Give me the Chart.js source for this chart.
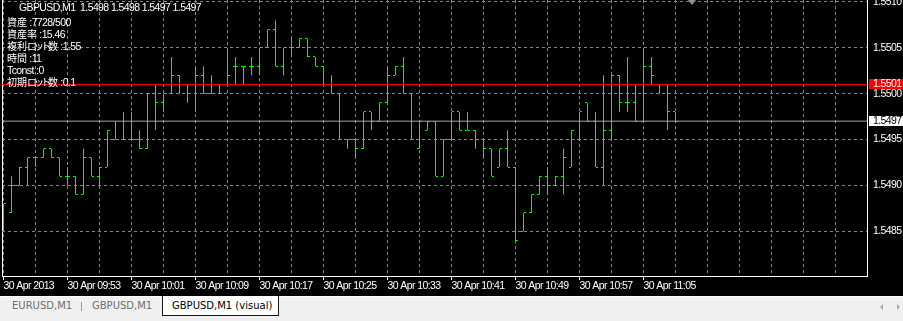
<!DOCTYPE html>
<html><head><meta charset="utf-8">
<script src="https://cdn.jsdelivr.net/npm/chart.js@4.4.1/dist/chart.umd.min.js"></script>
<style>
html,body{margin:0;padding:0;}
body{width:903px;height:321px;overflow:hidden;position:relative;background:#f0f0f0;}
#black{position:absolute;left:0;top:0;width:903px;height:296px;background:#000;}
#c{position:absolute;left:0;top:0;}
.t{position:absolute;color:#fff;font-family:"Liberation Sans",sans-serif;font-size:10.5px;letter-spacing:-0.6px;white-space:nowrap;line-height:12px;}
.t div{height:12px;}
.jp{font-family:"Noto Sans CJK JP",sans-serif;font-size:10px;letter-spacing:0;}
.kana{font-family:"Noto Sans CJK JP",sans-serif;font-size:10px;letter-spacing:-3px;}
#wline{position:absolute;left:0;top:296px;width:903px;height:1px;background:#fff;}
.tab{position:absolute;top:296px;height:19px;line-height:19px;font-family:"DejaVu Sans",sans-serif;font-size:10px;color:#6e6e6e;white-space:nowrap;}
#active{left:162px;width:106px;padding-left:9px;background:#fff;color:#000;border-left:1px solid #1a1a1a;border-right:1px solid #1a1a1a;border-bottom:1px solid #1a1a1a;}
#sep{position:absolute;left:81px;top:302px;width:1px;height:9px;background:#9a9a9a;}
#tri{position:absolute;left:688px;top:0;width:0;height:0;border-left:4px solid transparent;border-right:4px solid transparent;border-top:5px solid #8c929c;}
#al{position:absolute;left:880px;top:304px;width:0;height:0;border-top:3px solid transparent;border-bottom:3px solid transparent;border-right:3px solid #a8a8a8;}
#ar{position:absolute;left:897px;top:304px;width:0;height:0;border-top:3px solid transparent;border-bottom:3px solid transparent;border-left:3px solid #a8a8a8;}
</style>
</head>
<body>
<div id="black"></div>
<canvas id="c" width="903" height="295"></canvas>
<div class="t" id="ttl" style="left:19px;top:1px;white-space:pre"></div>
<div class="t" style="left:7px;top:16px"><div><span class="jp">資産</span> :7728/500</div><div><span class="jp">資産率</span> :15.46</div><div><span class="jp">複利</span><span class="kana">ロット</span><span class="jp">数</span> :1.55</div><div><span class="jp">時間</span> :11</div><div>Tconst :0</div><div><span class="jp">初期</span><span class="kana">ロット</span><span class="jp">数</span> :0.1</div></div>
<div id="tri"></div>
<div id="wline"></div>
<div class="tab" style="left:12px">EURUSD,M1</div>
<div id="sep"></div>
<div class="tab" style="left:92px">GBPUSD,M1</div>
<div class="tab" id="active">GBPUSD,M1 (visual)</div>
<div id="al"></div><div id="ar"></div>
<script>
// ---- data (GBPUSD M1, 30 Apr 2013 09:45 .. 11:09) ----
const symbol = 'GBPUSD,M1';
const opens = [
 1.5485,1.5487,1.5490,1.5492,1.5493,1.5493,1.5494,1.5493,1.5491,1.5491,
 1.5489,1.5493,1.5491,1.5492,1.5495,1.5495,1.5495,1.5495,1.5494,1.5500,
 1.5499,1.5500,1.5502,1.5501,1.5501,1.5502,1.5500,1.5501,1.5501,1.5503,
 1.5503,1.5503,1.5503,1.5505,1.5507,1.5503,1.5505,1.5505,1.5506,1.5504,
 1.5503,1.5501,1.5500,1.5495,1.5495,1.5494,1.5498,1.5497,1.5499,1.5502,
 1.5503,1.5500,1.5494,1.5496,1.5497,1.5491,1.5495,1.5498,1.5496,1.5496,
 1.5495,1.5494,1.5492,1.5494,1.5492,1.5485,1.5487,1.5489,1.5491,1.5490,
 1.5491,1.5492,1.5495,1.5499,1.5497,1.5492,1.5496,1.5502,1.5499,1.5499,
 1.5497,1.5503,1.5501,1.5501,1.5498];
const highs = [
 1.5488,1.5491,1.5492,1.5493,1.5493,1.5494,1.5494,1.5493,1.5492,1.5491,
 1.5494,1.5493,1.5492,1.5496,1.5497,1.5498,1.5498,1.5496,1.5500,1.5501,
 1.5500,1.5504,1.5502,1.5501,1.5503,1.5503,1.5502,1.5501,1.5505,1.5504,
 1.5503,1.5504,1.5505,1.5507,1.5508,1.5505,1.5506,1.5506,1.5506,1.5504,
 1.5503,1.5502,1.5500,1.5495,1.5495,1.5498,1.5498,1.5499,1.5503,1.5503,
 1.5504,1.5500,1.5497,1.5497,1.5497,1.5495,1.5498,1.5498,1.5498,1.5496,
 1.5495,1.5494,1.5494,1.5496,1.5492,1.5487,1.5489,1.5491,1.5492,1.5491,
 1.5494,1.5496,1.5498,1.5499,1.5498,1.5502,1.5502,1.5502,1.5504,1.5501,
 1.5505,1.5504,1.5501,1.5501,1.5498];
const lows = [
 1.5485,1.5487,1.5490,1.5490,1.5492,1.5493,1.5493,1.5491,1.5490,1.5489,
 1.5489,1.5491,1.5490,1.5492,1.5495,1.5495,1.5495,1.5494,1.5494,1.5496,
 1.5498,1.5500,1.5500,1.5499,1.5498,1.5500,1.5500,1.5500,1.5501,1.5501,
 1.5501,1.5502,1.5502,1.5505,1.5503,1.5502,1.5504,1.5505,1.5504,1.5503,
 1.5501,1.5500,1.5495,1.5494,1.5493,1.5494,1.5496,1.5497,1.5499,1.5502,
 1.5500,1.5495,1.5494,1.5496,1.5491,1.5491,1.5495,1.5496,1.5496,1.5494,
 1.5493,1.5491,1.5492,1.5492,1.5484,1.5485,1.5487,1.5489,1.5489,1.5490,
 1.5489,1.5492,1.5495,1.5497,1.5492,1.5490,1.5495,1.5498,1.5498,1.5497,
 1.5497,1.5501,1.5500,1.5496,1.5497];
const closes = [
 1.5488,1.5490,1.5492,1.5493,1.5493,1.5494,1.5493,1.5491,1.5491,1.5489,
 1.5493,1.5491,1.5492,1.5496,1.5495,1.5495,1.5495,1.5494,1.5500,1.5499,
 1.5500,1.5502,1.5501,1.5501,1.5502,1.5500,1.5500,1.5500,1.5502,1.5503,
 1.5503,1.5503,1.5505,1.5507,1.5503,1.5505,1.5505,1.5506,1.5504,1.5503,
 1.5501,1.5500,1.5495,1.5495,1.5494,1.5498,1.5497,1.5499,1.5502,1.5503,
 1.5500,1.5495,1.5497,1.5497,1.5491,1.5495,1.5498,1.5496,1.5496,1.5495,
 1.5494,1.5491,1.5494,1.5492,1.5484,1.5487,1.5489,1.5491,1.5490,1.5491,
 1.5493,1.5496,1.5498,1.5497,1.5492,1.5496,1.5502,1.5499,1.5499,1.5497,
 1.5503,1.5502,1.5501,1.5498,1.5497];
const askPrice = 1.5501;
const bidPrice = 1.5497;
const timeLabels = ['30 Apr 2013','30 Apr 09:53','30 Apr 10:01','30 Apr 10:09','30 Apr 10:17',
 '30 Apr 10:25','30 Apr 10:33','30 Apr 10:41','30 Apr 10:49','30 Apr 10:57','30 Apr 11:05'];
const priceTicks = [1.5485, 1.5490, 1.5495, 1.5500, 1.5505, 1.5510];
const gridBars = [0,4,8,12,16,20,24,28,32,36,40,44,48,52,56,60,64,68,72,76,80,84,88,92,96,100,104];

// ---- view ----
const X_MIN = -0.1875, X_MAX = 107.9375;
const Y_MIN = 1.548012, Y_MAX = 1.551021;
const FONT = '"Liberation Sans", sans-serif';
const FSIZE = 10.5;
const LSPACE = '-0.6px';
const GREEN = '#00ff00';
const GRID = '#778899';

const last = opens.length - 1;
document.getElementById('ttl').textContent = symbol + '  ' +
  [opens[last], highs[last], lows[last], closes[last]].map(v => v.toFixed(4)).join(' ');

function tickImg(left) {
  const c = document.createElement('canvas'); c.width = 5; c.height = 1;
  const g = c.getContext('2d'); g.fillStyle = GREEN;
  if (left) g.fillRect(0, 0, 2, 1); else g.fillRect(3, 0, 2, 1);
  return c;
}
const openImg = tickImg(true), closeImg = tickImg(false);

function labelFor(v) {
  if (v % 8 !== 0) return '';
  return timeLabels[v / 8] || '';
}

const decor = {
  id: 'decor',
  beforeInit(chart) { chart.ctx.letterSpacing = LSPACE; },
  beforeDraw(chart) {
    const ctx = chart.ctx;
    ctx.letterSpacing = LSPACE;
    ctx.save(); ctx.fillStyle = '#000';
    ctx.fillRect(0, 0, chart.width, chart.height); ctx.restore();
  },
  beforeDatasetsDraw(chart) { chart.ctx.imageSmoothingEnabled = false; },
  afterDraw(chart) {
    const ctx = chart.ctx, ys = chart.scales.y, x0 = chart.chartArea.right + 2;
    const tag = (price, bg, fg) => {
      const yy = Math.floor(ys.getPixelForValue(price));
      ctx.save();
      ctx.fillStyle = bg; ctx.fillRect(x0, yy - 5, chart.width - x0, 10);
      ctx.fillStyle = fg; ctx.font = FSIZE + 'px ' + FONT; ctx.textBaseline = 'middle'; ctx.textAlign = 'left';
      ctx.letterSpacing = LSPACE;
      ctx.fillText(price.toFixed(4), x0 + 4, yy + 0.5);
      ctx.restore();
    };
    tag(askPrice, '#ff0000', '#ffffff');
    tag(bidPrice, '#ffffff', '#000000');
  }
};

const zeroPad = s => { s.paddingLeft = 0; s.paddingRight = 0; s.paddingTop = 0; s.paddingBottom = 0; };

new Chart(document.getElementById('c'), {
  type: 'line',
  data: {
    datasets: [
      { type: 'line', label: 'Ask', yAxisID: 'y', xAxisID: 'x', order: 0,
        data: [{x: X_MIN, y: askPrice}, {x: X_MAX, y: askPrice}],
        borderColor: '#ff0000', borderWidth: 1, pointRadius: 0, tension: 0 },
      { type: 'line', label: 'Bid', yAxisID: 'y', xAxisID: 'x', order: 0,
        data: [{x: X_MIN, y: bidPrice}, {x: X_MAX, y: bidPrice}],
        borderColor: '#a3a6ab', borderWidth: 1, pointRadius: 0, tension: 0 },
      { type: 'scatter', label: 'Open', yAxisID: 'y', xAxisID: 'x', order: 1,
        data: opens.map((v, i) => ({x: i, y: v})), pointStyle: openImg, pointRadius: 2, showLine: false },
      { type: 'scatter', label: 'Close', yAxisID: 'y', xAxisID: 'x', order: 1,
        data: closes.map((v, i) => ({x: i, y: v})), pointStyle: closeImg, pointRadius: 2, showLine: false },
      { type: 'bar', label: 'Range', yAxisID: 'y', xAxisID: 'x', order: 2,
        data: lows.map((v, i) => ({x: i, y: [v, highs[i]]})),
        backgroundColor: GREEN, borderWidth: 0, barThickness: 1, inflateAmount: 0, grouped: false }
    ]
  },
  options: {
    responsive: false, animation: false, devicePixelRatio: 1, events: [],
    layout: { padding: 0, autoPadding: false },
    plugins: { legend: { display: false }, tooltip: { enabled: false } },
    scales: {
      x: {
        type: 'linear', position: 'bottom', min: X_MIN, max: X_MAX, offset: false,
        afterBuildTicks: s => { s.ticks = gridBars.map(v => ({value: v})); },
        afterFit: s => { s.height = 19; zeroPad(s); },
        grid: { color: GRID, lineWidth: 1, offset: false, drawTicks: true, tickLength: 4,
          tickColor: c => (c.tick && labelFor(c.tick.value)) ? '#ffffff' : 'rgba(0,0,0,0)', tickBorderDash: [] },
        border: { display: true, color: '#ffffff', width: 1, dash: [3, 3] },
        ticks: { color: '#ffffff', font: { family: FONT, size: FSIZE, lineHeight: 1.1 }, padding: 0,
          maxRotation: 0, minRotation: 0, autoSkip: false, align: 'start', callback: v => labelFor(v) }
      },
      yL: {
        type: 'linear', position: 'left', min: 0, max: 1, display: true,
        afterFit: s => { s.width = 2; zeroPad(s); },
        grid: { display: false, drawTicks: false },
        ticks: { display: false },
        border: { display: true, color: '#ffffff', width: 1 }
      },
      y: {
        type: 'linear', position: 'right', min: Y_MIN, max: Y_MAX,
        afterBuildTicks: s => { s.ticks = priceTicks.map(v => ({value: v})); },
        afterFit: s => { s.width = 36; zeroPad(s); },
        grid: { color: GRID, lineWidth: 1, drawTicks: true, tickLength: 4, tickColor: 'rgba(0,0,0,0)' },
        border: { display: true, color: '#ffffff', width: 1, dash: [3, 3] },
        ticks: { color: '#ffffff', font: { family: FONT, size: FSIZE }, padding: 2, callback: v => v.toFixed(4) }
      }
    }
  },
  plugins: [decor]
});
</script>
</body></html>
